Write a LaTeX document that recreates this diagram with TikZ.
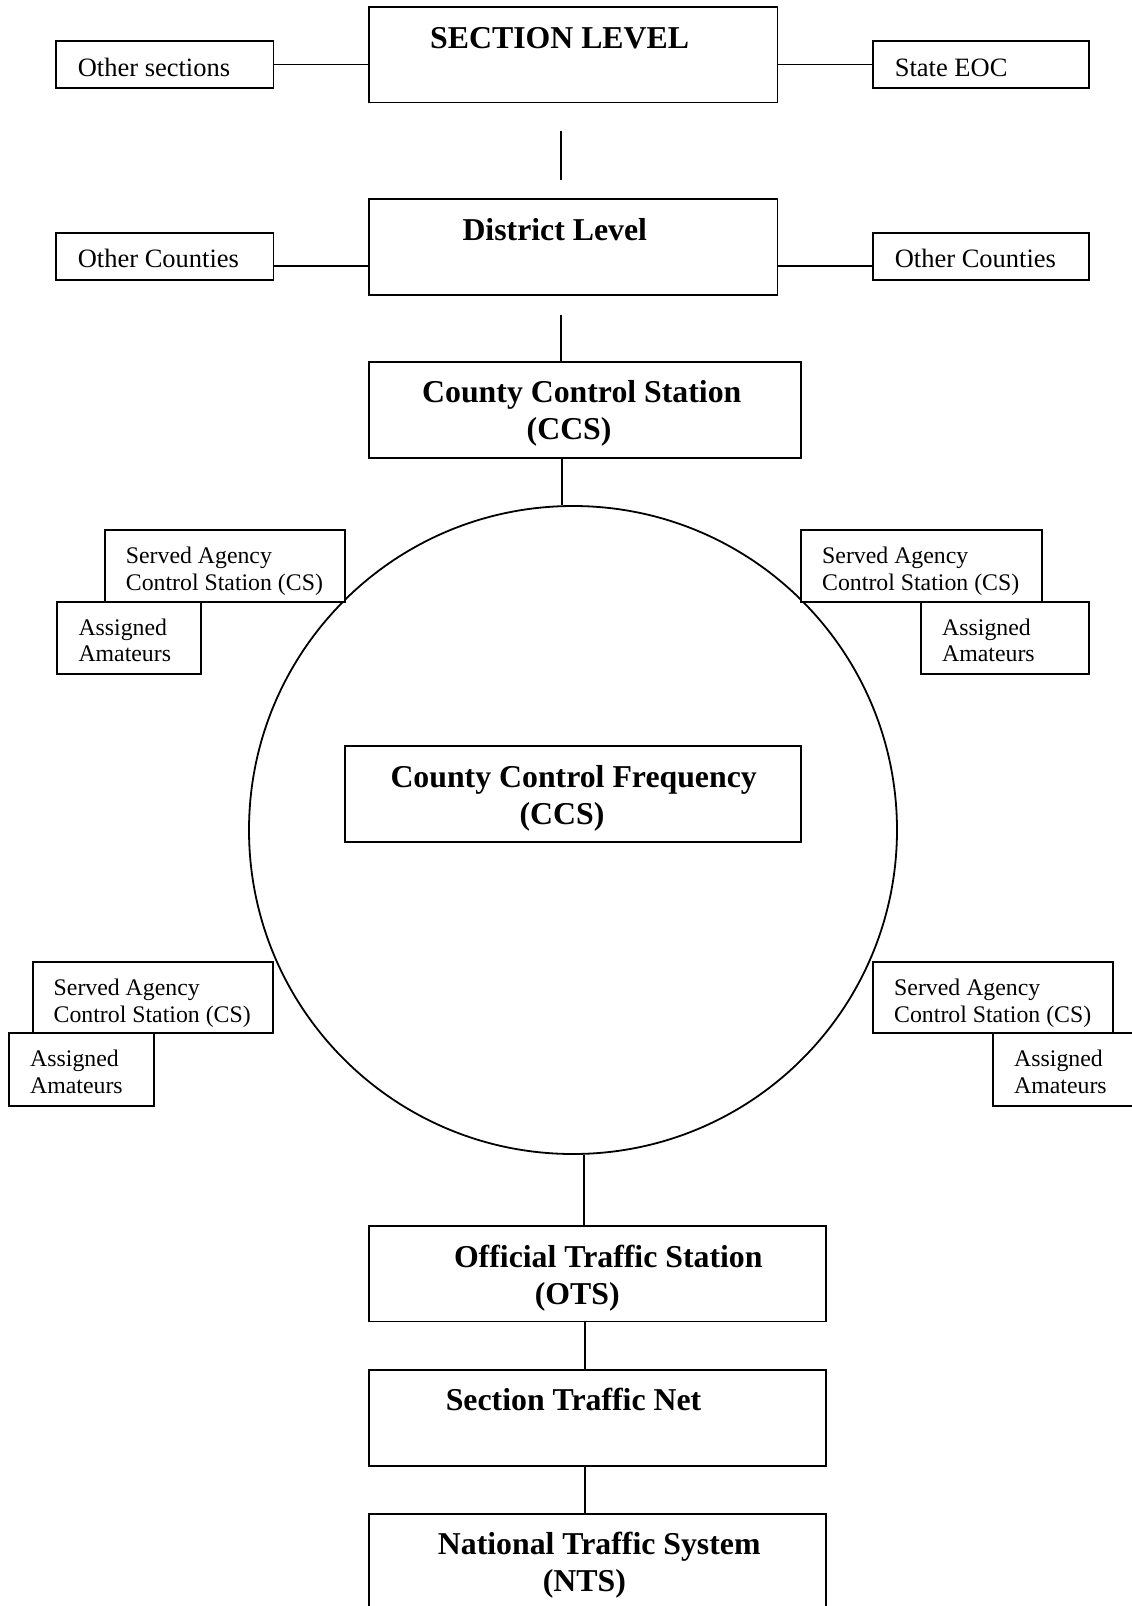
\documentclass[tikz,border=0pt]{standalone}
\usepackage{fontspec}
\setmainfont{Liberation Serif}
\begin{document}
\begin{tikzpicture}[x=1pt,y=-1pt,
  box/.style={draw, line width=1.8pt, fill=white, rectangle, inner sep=0pt},
  conn/.style={line width=1.8pt},
  ring/.style={draw, circle, line width=1.8pt, inner sep=0pt},
  big/.style={font=\fontsize{31.8}{36.9}\selectfont\bfseries, inner sep=0pt, anchor=base west},
  mid/.style={font=\fontsize{26.5}{30}\selectfont, inner sep=0pt, anchor=base west},
  small/.style={font=\fontsize{23.8}{26.7}\selectfont, inner sep=0pt, anchor=base west}]
\useasboundingbox (0,0) rectangle (1132,1606);
\clip (0,0) rectangle (1132,1606);

% circle
\node[ring, minimum size=648pt] (circ) at (573,830) {};

% top level boxes
\node[box, minimum width=408.5pt, minimum height=95.5pt] (sec) at (573.25,54.75) {};
\node[box, minimum width=217.5pt, minimum height=47pt] (othsec) at (164.75,64.5) {};
\node[box, minimum width=216pt, minimum height=47pt] (steoc) at (981,64.5) {};
\node[box, minimum width=408.5pt, minimum height=96pt] (dist) at (573.25,247) {};
\node[box, minimum width=217.5pt, minimum height=47pt] (ocL) at (164.75,256.3) {};
\node[box, minimum width=216pt, minimum height=47pt] (ocR) at (981,256.3) {};
\node[box, minimum width=432pt, minimum height=96.4pt] (ccs) at (585,409.8) {};
\node[box, minimum width=456pt, minimum height=96pt] (ccf) at (573,794) {};
\node[box, minimum width=456.7pt, minimum height=95.5pt] (ots) at (597.35,1273.75) {};
\node[box, minimum width=456.7pt, minimum height=96pt] (stn) at (597.35,1418) {};
\node[box, minimum width=456.7pt, minimum height=96pt] (nts) at (597.35,1562) {};

% small boxes
\node[box, minimum width=240.3pt, minimum height=71.7pt] (saTL) at (225.15,565.85) {};
\node[box, minimum width=144pt, minimum height=72.3pt] (amTL) at (129.3,637.85) {};
\node[box, minimum width=240.7pt, minimum height=71.7pt] (saTR) at (921.35,565.85) {};
\node[box, minimum width=168.3pt, minimum height=72.3pt] (amTR) at (1005.15,637.85) {};
\node[box, minimum width=240.6pt, minimum height=71pt] (saBL) at (153,997.8) {};
\node[box, minimum width=144.7pt, minimum height=72.4pt] (amBL) at (81.35,1069.5) {};
\node[box, minimum width=240pt, minimum height=71pt] (saBR) at (993.3,997.8) {};
\node[box, minimum width=156.7pt, minimum height=72.4pt] (amBR) at (1071.65,1069.5) {};

% helper coordinates
\coordinate (dl) at (0,266);
\coordinate (v1a) at (561,131);
\coordinate (v1b) at (561,180);
\coordinate (v2a) at (561,314.5);
\coordinate (xl) at (585,0);

% connectors
\draw[conn] (othsec.east) -- (othsec.east -| sec.west);
\draw[conn] (steoc.west -| sec.east) -- (steoc.west);
\draw[conn] (ocL.east |- dl) -- (dist.west |- dl);
\draw[conn] (dist.east |- dl) -- (ocR.west |- dl);
\draw[conn] (v1a) -- (v1b);
\draw[conn] (v2a) -- (v2a |- ccs.north);
\draw[conn] (ccs.south -| circ.92.12) -- (circ.92.12);
\draw[conn] (circ.272.12) -- (circ.272.12 |- ots.north);
\draw[conn] (ots.south -| xl) -- (stn.north -| xl);
\draw[conn] (stn.south -| xl) -- (nts.north -| xl);

% texts
\node[big] (tsec) at (430,48.3) {SECTION LEVEL};
\node[mid] (tothsec) at (77.6,76) {Other sections};
\node[mid] (tsteoc) at (894.6,76) {State EOC};
\node[big] (tdist) at (462.3,240) {District Level};
\node[mid] (tocL) at (77.6,267.7) {Other Counties};
\node[mid] (tocR) at (894.6,267.7) {Other Counties};
\node[big] (tccsa) at (422,402.8) {County Control Station};
\node[big] (tccsb) at (526.5,439.7) {(CCS)};
\node[big] (tccfa) at (390.3,787) {County Control Frequency};
\node[big] (tccfb) at (519.4,824.9) {(CCS)};
\node[big] (totsa) at (453.8,1267.5) {Official Traffic Station};
\node[big] (totsb) at (534.7,1304.3) {(OTS)};
\node[big] (tstn) at (445.6,1410.9) {Section Traffic Net};
\node[big] (tntsa) at (437.7,1554.3) {National Traffic System};
\node[big] (tntsb) at (542.7,1591) {(NTS)};

\node[small] (tsaTLa) at (125.7,563.3) {Served Agency};
\node[small] (tsaTLb) at (125.7,590) {Control Station (CS)};
\node[small] (tamTLa) at (78.3,635) {Assigned};
\node[small] (tamTLb) at (78.3,661.7) {Amateurs};
\node[small] (tsaTRa) at (822,563.3) {Served Agency};
\node[small] (tsaTRb) at (822,590) {Control Station (CS)};
\node[small] (tamTRa) at (942,635) {Assigned};
\node[small] (tamTRb) at (942,661.7) {Amateurs};
\node[small] (tsaBLa) at (53.5,995.6) {Served Agency};
\node[small] (tsaBLb) at (53.5,1022.3) {Control Station (CS)};
\node[small] (tamBLa) at (30,1066.6) {Assigned};
\node[small] (tamBLb) at (30,1093.3) {Amateurs};
\node[small] (tsaBRa) at (894,995.6) {Served Agency};
\node[small] (tsaBRb) at (894,1022.3) {Control Station (CS)};
\node[small] (tamBRa) at (1014,1066.6) {Assigned};
\node[small] (tamBRb) at (1014,1093.3) {Amateurs};
\end{tikzpicture}
\end{document}
